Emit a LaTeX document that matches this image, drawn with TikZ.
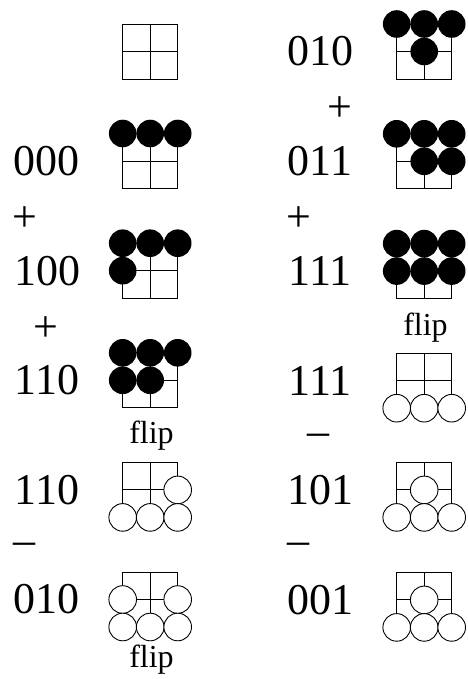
\documentclass[tikz,border=0pt]{standalone}
\usepackage{fontspec}
\setmainfont{Liberation Serif}

\tikzset{
  grade/.style={line width=0.9pt},
  pedra/.style={fill=black},
  vazio/.style={draw=black, fill=white, line width=0.9pt},
  rotulo/.style={font=\fontsize{44}{44}\selectfont, inner sep=0pt},
  nota/.style={font=\fontsize{32}{32}\selectfont, inner sep=0pt}
}

% 2x2 board, top left corner at the origin of the scope
\newcommand{\grade}{%
  \draw[grade] (0,0) rectangle (55,55);
  \draw[grade] (27.5,0) -- (27.5,55);
  \draw[grade] (0,27.5) -- (55,27.5);}
\newcommand{\pretas}[1]{\foreach \c/\r in {#1} \fill[pedra] (27.5*\c,27.5*\r) circle (13.8pt);}
\newcommand{\brancas}[1]{\foreach \c/\r in {#1} \filldraw[vazio] (27.5*\c,27.5*\r) circle (13.8pt);}

\begin{document}
\begin{tikzpicture}[x=1pt, y=-1pt]
    \useasboundingbox (0,0) rectangle (467,679);

    % coluna da esquerda
    \begin{scope}[shift={(122.7,24)}]
      \grade
    \end{scope}
    \begin{scope}[shift={(122.7,133.5)}]
      \grade
      \pretas{0/0,1/0,2/0}
    \end{scope}
    \begin{scope}[shift={(122.7,243.2)}]
      \grade
      \pretas{0/0,1/0,2/0,0/1}
    \end{scope}
    \begin{scope}[shift={(122.7,352.8)}]
      \grade
      \pretas{0/0,1/0,2/0,0/1,1/1}
    \end{scope}
    \begin{scope}[shift={(122.7,462.4)}]
      \grade
      \brancas{2/1,0/2,1/2,2/2}
    \end{scope}
    \begin{scope}[shift={(122.7,572)}]
      \grade
      \brancas{0/1,2/1,0/2,1/2,2/2}
    \end{scope}

    \node[rotulo] (e1) at (46,161) {000};
    \node[rotulo] (p1) at (25,219) {+};
    \node[rotulo] (e2) at (47,270.7) {100};
    \node[rotulo] (p2) at (46,329) {+};
    \node[rotulo] (e3) at (47,380.3) {110};
    \node[nota]   (f1) at (151.5,436) {flip};
    \node[rotulo] (e4) at (47,490) {110};
    \node[rotulo] (m1) at (24,549) {–};
    \node[rotulo] (e5) at (46,599.5) {010};
    \node[nota]   (f2) at (151.5,660) {flip};

    % coluna da direita
    \begin{scope}[shift={(396.7,24)}]
      \grade
      \pretas{0/0,1/0,2/0,1/1}
    \end{scope}
    \begin{scope}[shift={(396.7,133.8)}]
      \grade
      \pretas{0/0,1/0,2/0,1/1,2/1}
    \end{scope}
    \begin{scope}[shift={(396.7,243.6)}]
      \grade
      \pretas{0/0,1/0,2/0,0/1,1/1,2/1}
    \end{scope}
    \begin{scope}[shift={(396.7,353.2)}]
      \grade
      \brancas{0/2,1/2,2/2}
    \end{scope}
    \begin{scope}[shift={(396.7,462.4)}]
      \grade
      \brancas{1/1,0/2,1/2,2/2}
    \end{scope}
    \begin{scope}[shift={(396.7,572.4)}]
      \grade
      \brancas{1/1,0/2,1/2,2/2}
    \end{scope}

    \node[rotulo] (d1) at (320,51.5) {010};
    \node[rotulo] (p3) at (340,109) {+};
    \node[rotulo] (d2) at (320,161.5) {011};
    \node[rotulo] (p4) at (299,219) {+};
    \node[rotulo] (d3) at (320,271.3) {111};
    \node[nota]   (f3) at (425.5,327.5) {flip};
    \node[rotulo] (d4) at (320,380.6) {111};
    \node[rotulo] (m2) at (318,440) {–};
    \node[rotulo] (d5) at (320,490) {101};
    \node[rotulo] (m3) at (298,549) {–};
    \node[rotulo] (d6) at (320,600) {001};
\end{tikzpicture}
\end{document}
